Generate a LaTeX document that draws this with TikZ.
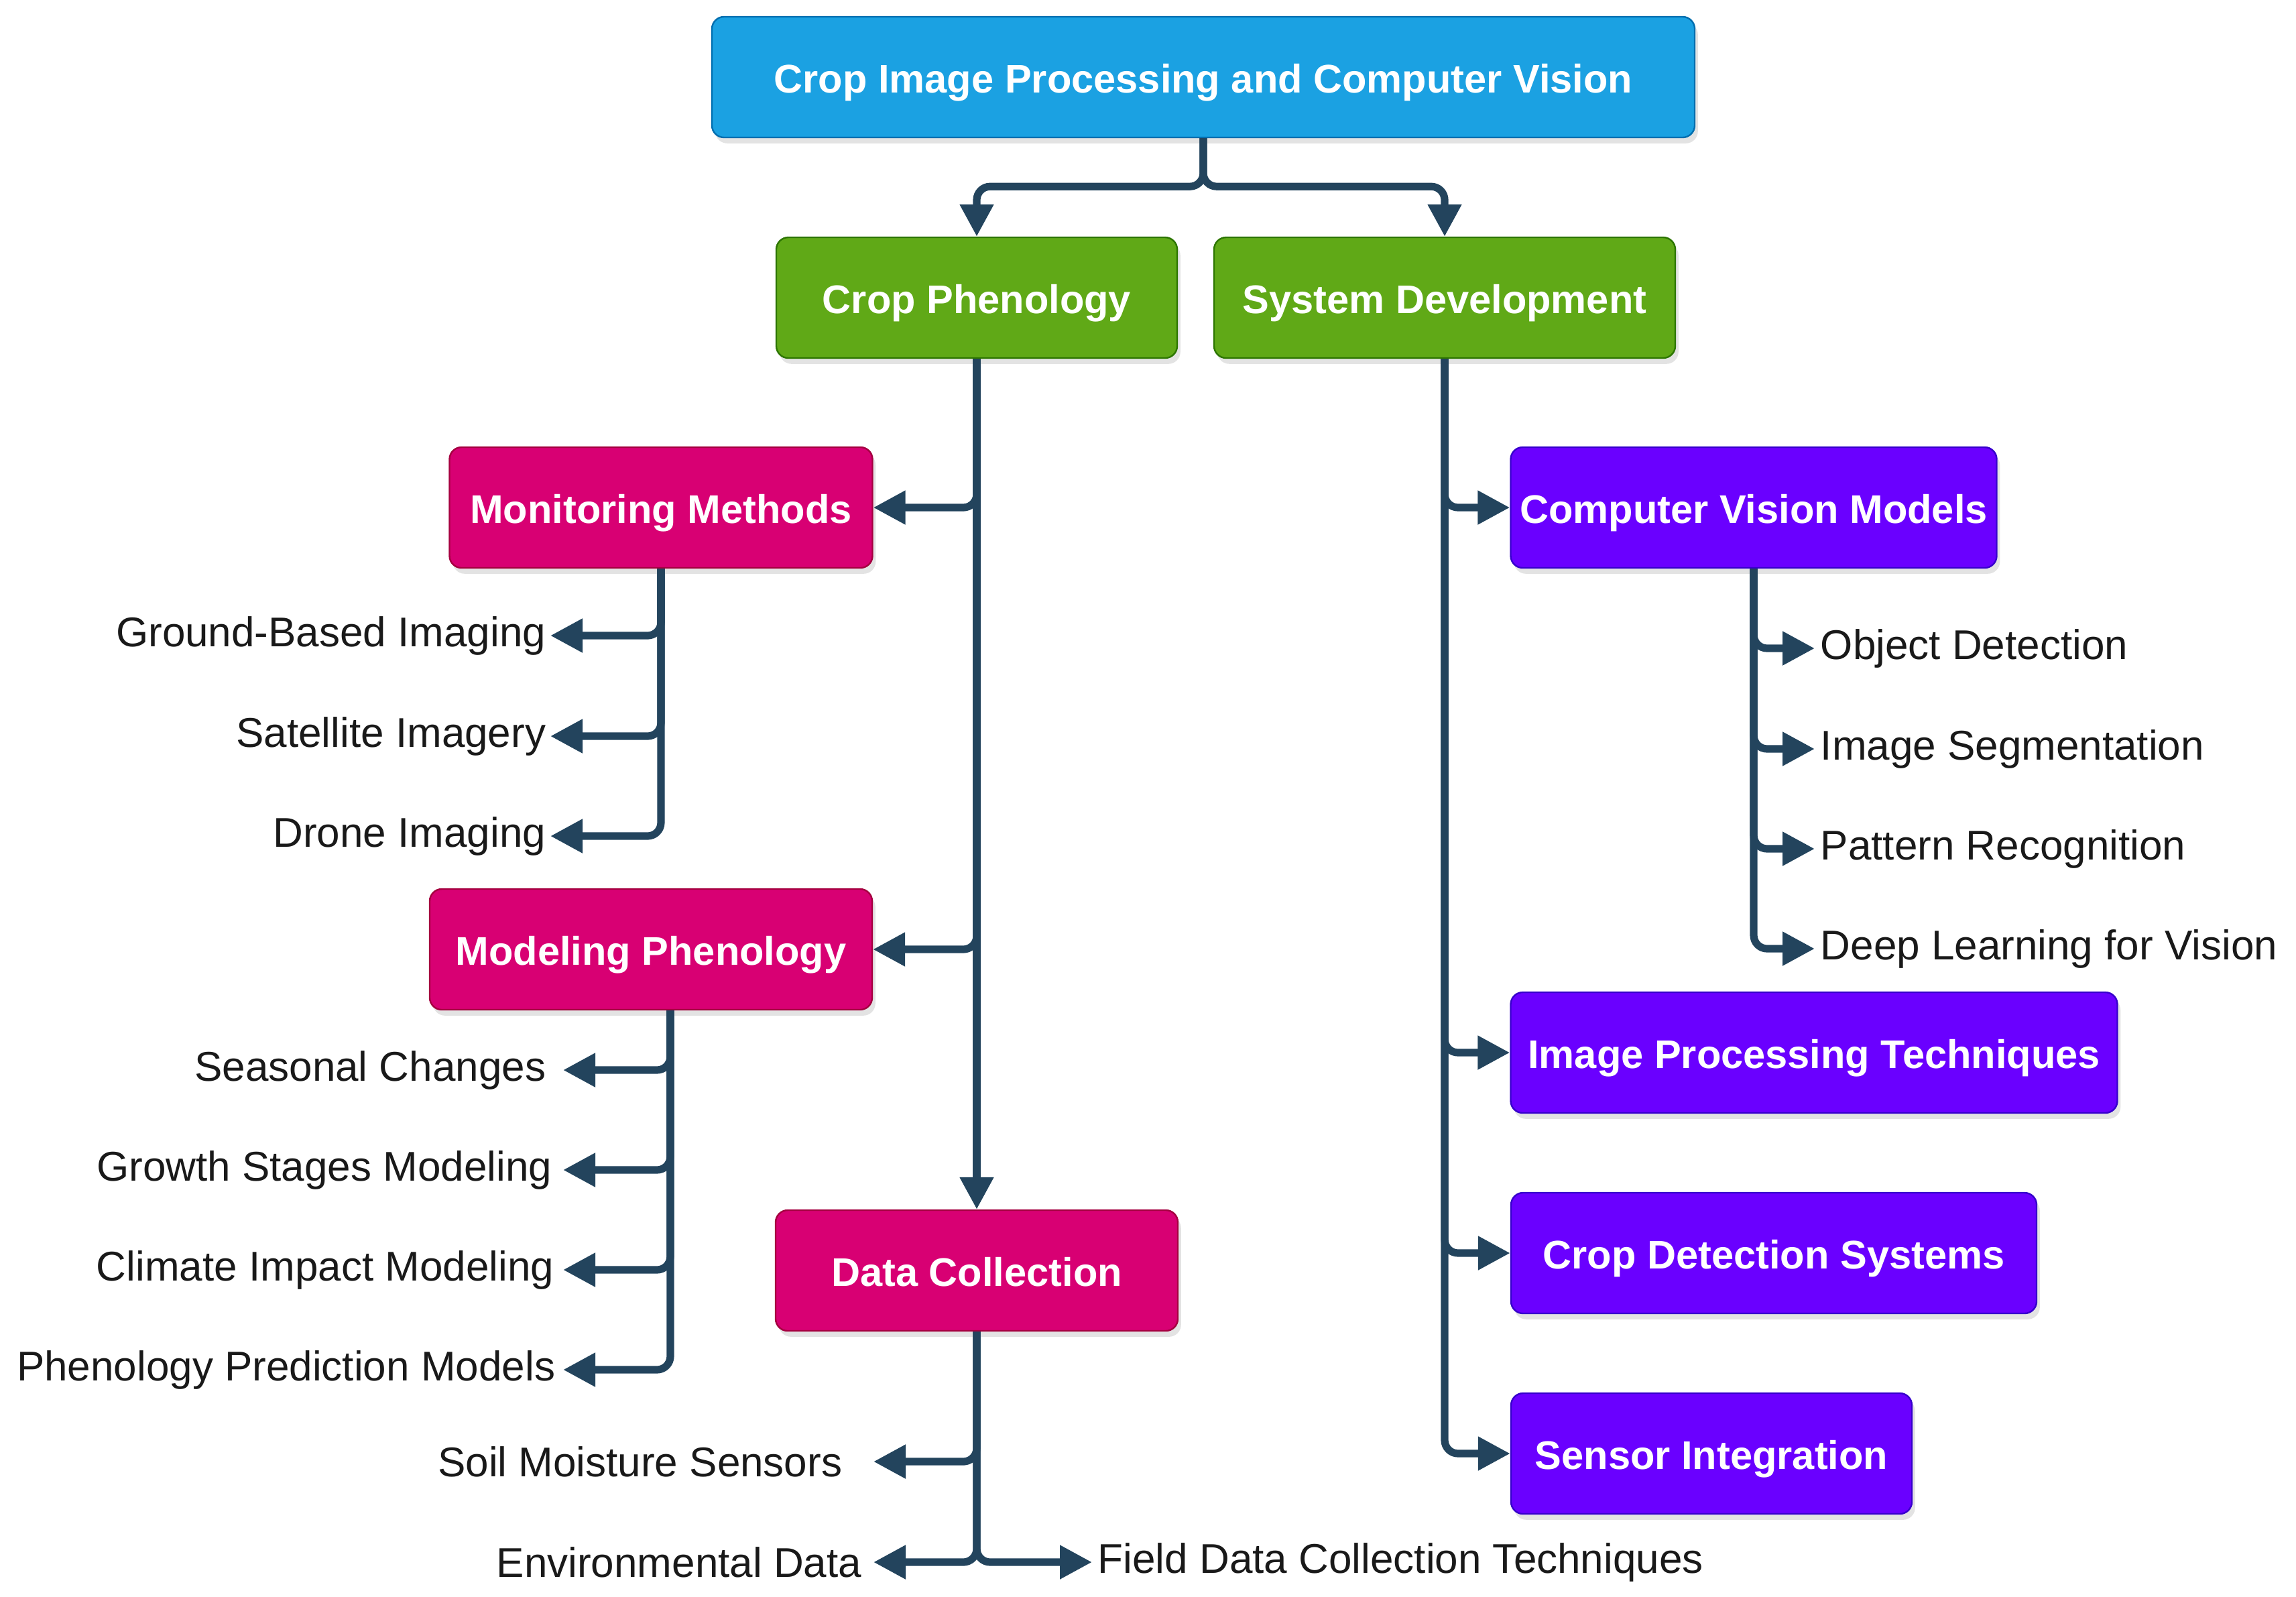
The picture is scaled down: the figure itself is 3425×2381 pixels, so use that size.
\documentclass[tikz,border=0pt]{standalone}
\usepackage{fontspec}
\setmainfont{Liberation Sans}
\usetikzlibrary{arrows.meta,shadows}
\definecolor{rootfill}{HTML}{1BA1E2}
\definecolor{rootline}{HTML}{006EAF}
\definecolor{greenfill}{HTML}{60A917}
\definecolor{greenline}{HTML}{2D7600}
\definecolor{pinkfill}{HTML}{D80073}
\definecolor{pinkline}{HTML}{A50040}
\definecolor{violetfill}{HTML}{6A00FF}
\definecolor{violetline}{HTML}{3700CC}
\definecolor{linkcol}{HTML}{23445D}
\begin{document}
\begin{tikzpicture}[x=0.25pt,y=-0.25pt,line
				join=round,>={Triangle[length=12pt,width=12pt]},
				box/.style={rectangle,rounded corners=4.5pt,line width=0.6pt,
					minimum height=45pt,inner xsep=2pt,text=white,
					text height=11.6pt,text depth=0pt,
					font=\bfseries\fontsize{14.9}{18}\selectfont,
					drop shadow={shadow xshift=1.2pt,shadow yshift=-2.2pt,opacity=0.22}},
				rootbox/.style={box,fill=rootfill,draw=rootline},
				greenbox/.style={box,fill=greenfill,draw=greenline},
				pinkbox/.style={box,fill=pinkfill,draw=pinkline},
				violetbox/.style={box,fill=violetfill,draw=violetline},
				leaf/.style={inner ysep=2pt,inner xsep=1.5pt,text=black!90,
					font=\fontsize{15.5}{18}\selectfont},
				link/.style={draw=linkcol,line width=2.8pt,rounded corners=5pt,->}]
				\useasboundingbox (0,0) rectangle (3425,2381);
				% boxes
				\node[rootbox,minimum width=366.5pt] (root) at (1795,115)
				{Crop Image Processing and Computer Vision};
				\node[greenbox,minimum width=149.5pt] (phen) at (1457,444) {Crop Phenology};
				\node[greenbox,minimum width=172pt] (sys) at (2155,444) {System Development};
				\node[pinkbox,minimum width=157.75pt] (mon) at (986,757) {Monitoring Methods};
				\node[pinkbox,minimum width=165pt] (mod) at (971,1416) {Modeling Phenology};
				\node[pinkbox,minimum width=150pt] (data) at (1457,1895) {Data Collection};
				\node[violetbox,minimum width=181.25pt] (cvm) at (2616,757) {Computer Vision Models};
				\node[violetbox,minimum width=226.25pt] (ipt) at (2706,1570) {Image Processing Techniques};
				\node[violetbox,minimum width=196pt] (cds) at (2646,1869) {Crop Detection Systems};
				\node[violetbox,minimum width=149.5pt] (sens) at (2553,2168) {Sensor Integration};
				% leaves
				\node[leaf,anchor=east] (gbi) at (821,948) {Ground-Based Imaging};
				\node[leaf,anchor=east] (sat) at (821,1098) {Satellite Imagery};
				\node[leaf,anchor=east] (dro) at (821,1247) {Drone Imaging};
				\node[leaf,anchor=east,inner xsep=6.25pt] (sea) at (840,1596) {Seasonal Changes};
				\node[leaf,anchor=east,inner xsep=4pt] (gro) at (840,1745) {Growth Stages Modeling};
				\node[leaf,anchor=east,inner xsep=3.25pt] (cli) at (840,1894) {Climate Impact Modeling};
				\node[leaf,anchor=east,inner xsep=2.75pt] (pre) at (840,2043) {Phenology Prediction Models};
				\node[leaf,anchor=east,inner xsep=11.5pt] (soil) at (1303,2180) {Soil Moisture Sensors};
				\node[leaf,anchor=east,inner xsep=4.25pt] (env) at (1303,2330) {Environmental Data};
				\node[leaf,anchor=west,inner xsep=2pt] (field) at (1629,2330) {Field Data Collection Techniques};
				\node[leaf,anchor=west,inner xsep=2pt] (obj) at (2707,967) {Object Detection};
				\node[leaf,anchor=west,inner xsep=2pt] (seg) at (2707,1117) {Image Segmentation};
				\node[leaf,anchor=west,inner xsep=2pt] (pat) at (2707,1266) {Pattern Recognition};
				\node[leaf,anchor=west,inner xsep=2pt] (dee) at (2707,1415) {Deep Learning for Vision};
				\coordinate (modout) at ([xshift=7.25pt]mod.south);
				% connectors
				\draw[link] (root.south)--++(0,72)-|(phen.north);
				\draw[link] (root.south)--++(0,72)-|(sys.north);
				\draw[link] (phen.south)|-(mon.east);
				\draw[link] (phen.south)|-(mod.east);
				\draw[link] (phen.south)--(data.north);
				\draw[link] (sys.south)|-(cvm.west);
				\draw[link] (sys.south)|-(ipt.west);
				\draw[link] (sys.south)|-(cds.west);
				\draw[link] (sys.south)|-(sens.west);
				\draw[link] (mon.south)|-(gbi.east);
				\draw[link] (mon.south)|-(sat.east);
				\draw[link] (mon.south)|-(dro.east);
				\draw[link] (modout)|-(sea.east);
				\draw[link] (modout)|-(gro.east);
				\draw[link] (modout)|-(cli.east);
				\draw[link] (modout)|-(pre.east);
				\draw[link] (cvm.south)|-(obj.west);
				\draw[link] (cvm.south)|-(seg.west);
				\draw[link] (cvm.south)|-(pat.west);
				\draw[link] (cvm.south)|-(dee.west);
				\draw[link] (data.south)|-(soil.east);
				\draw[link] (data.south)|-(env.east);
				\draw[link] (data.south)|-(field.west);
			\end{tikzpicture}
\end{document}
